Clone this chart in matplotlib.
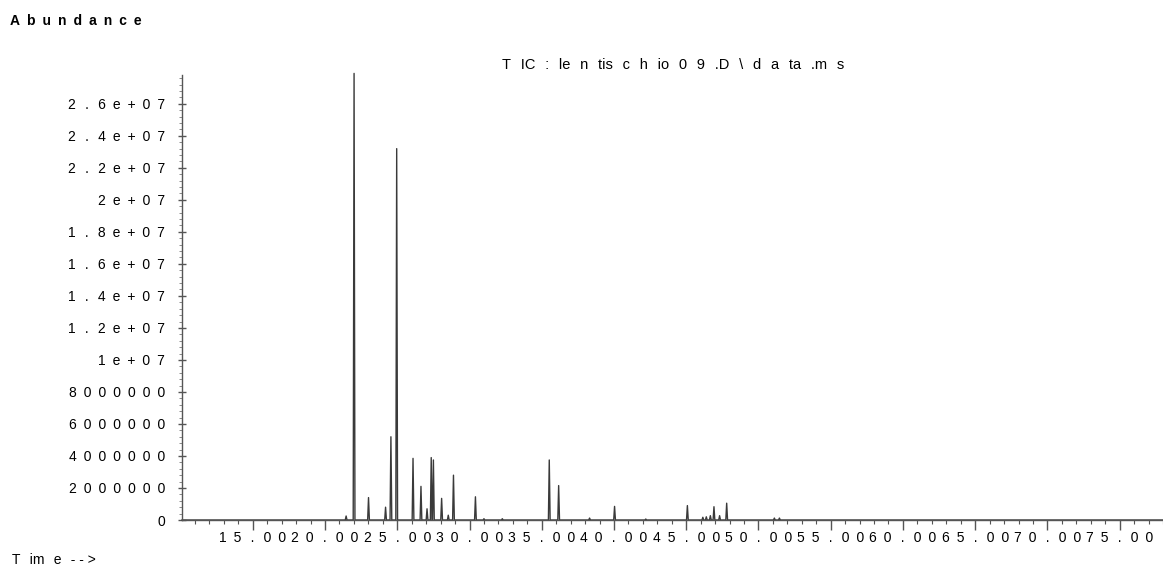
import matplotlib
matplotlib.use('Agg')
from matplotlib import pyplot as plt
from matplotlib.ticker import MultipleLocator, FixedLocator

peak_times = [21.46, 22.01, 23.01, 24.19, 24.56, 24.96, 26.09, 26.64, 27.06, 27.35,
              27.50, 28.07, 28.53, 28.89, 30.41, 31.00, 32.27, 35.52, 36.17, 38.31,
              40.04, 42.20, 45.08, 46.15, 46.39, 46.67, 46.92, 47.31, 47.80, 51.10, 51.45]
peak_heights = [0.25e6, 27.9e6, 1.4e6, 0.8e6, 5.2e6, 23.2e6, 3.85e6, 2.1e6, 0.7e6, 3.9e6,
                3.75e6, 1.35e6, 0.3e6, 2.8e6, 1.45e6, 0.08e6, 0.08e6, 3.75e6, 2.15e6, 0.12e6,
                0.85e6, 0.06e6, 0.9e6, 0.17e6, 0.2e6, 0.27e6, 0.83e6, 0.27e6, 1.05e6, 0.12e6, 0.12e6]

x_ticks = [15, 20, 25, 30, 35, 40, 45, 50, 55, 60, 65, 70, 75]
x_labels = ['15.00', '20.00', '25.00', '30.00', '35.00', '40.00', '45.00',
            '50.00', '55.00', '60.00', '65.00', '70.00', '75.00']
y_ticks = [0, 2e6, 4e6, 6e6, 8e6, 1e7, 1.2e7, 1.4e7, 1.6e7, 1.8e7, 2e7, 2.2e7, 2.4e7, 2.6e7]
y_labels = ['0', '2000000', '4000000', '6000000', '8000000', '1e+07', '1.2e+07', '1.4e+07',
            '1.6e+07', '1.8e+07', '2e+07', '2.2e+07', '2.4e+07', '2.6e+07']

FONT = ['Liberation Sans', 'DejaVu Sans']
EN = '\u2002'
WIDE = '\u2002\u2006'


def spaced(s):
    # letter-spaced like the instrument printout; '.' gets a bit more room
    out = s[0]
    for a, b in zip(s, s[1:]):
        out += (WIDE if '.' in (a, b) else EN) + b
    return out


x0, x1 = 10.1, 78.0
hw = 0.06  # half width of a peak, minutes

xs = [x0]
ys = [0]
for t, h in zip(peak_times, peak_heights):
    xs += [t - hw, t, t + hw]
    ys += [0, h, 0]
xs.append(x1)
ys.append(0)

fig = plt.figure(figsize=(11.63, 5.68), dpi=100)
ax = fig.add_axes([182 / 1163, 1 - 520 / 568, 1 - 182 / 1163, (520 - 75) / 568])

ax.plot(xs, ys, color='#3a3a3a', lw=1.0, clip_on=False)

ax.set_xlim(x0, x1)
ax.set_ylim(0, 2.78e7)
for s in ['top', 'right']:
    ax.spines[s].set_visible(False)
for s in ['left', 'bottom']:
    ax.spines[s].set_color('#555555')
    ax.spines[s].set_linewidth(1.0)

ax.xaxis.set_major_locator(FixedLocator(x_ticks))
ax.xaxis.set_minor_locator(MultipleLocator(1))
ax.set_xticklabels([spaced(l) for l in x_labels], family=FONT, fontsize=10)
ax.yaxis.set_major_locator(FixedLocator(y_ticks))
ax.yaxis.set_minor_locator(MultipleLocator(4e5))
ax.set_yticklabels([spaced(l) for l in y_labels], family=FONT, fontsize=10)

ax.tick_params(axis='x', which='major', direction='out', length=7, width=1, color='#555555', pad=1)
ax.tick_params(axis='x', which='minor', direction='out', length=3, width=0.8, color='#555555')
ax.tick_params(axis='y', which='major', direction='inout', length=6, width=1, color='#555555', pad=9)
ax.tick_params(axis='y', which='minor', direction='out', length=2, width=0.6, color='#777777')

fig.text(10 / 1163, 1 - 21 / 568, EN.join('Abundance'), family=FONT, fontsize=10,
         fontweight='bold', va='center', ha='left')
fig.text(12 / 1163, 1 - 560 / 568, 'T' + WIDE + 'im' + WIDE + 'e' + WIDE + '- - >',
         family=FONT, fontsize=10, va='center', ha='left')
title = WIDE.join(['T', 'IC', ':', 'le', 'n', 'tis', 'c', 'h', 'io', '0', '9', '.D', '\\',
                   'd', 'a', 'ta', '.m', 's'])
fig.text(673 / 1163, 1 - 65 / 568, title, family=FONT, fontsize=10.5, va='center', ha='center')

plt.savefig('out.png', dpi=100)
